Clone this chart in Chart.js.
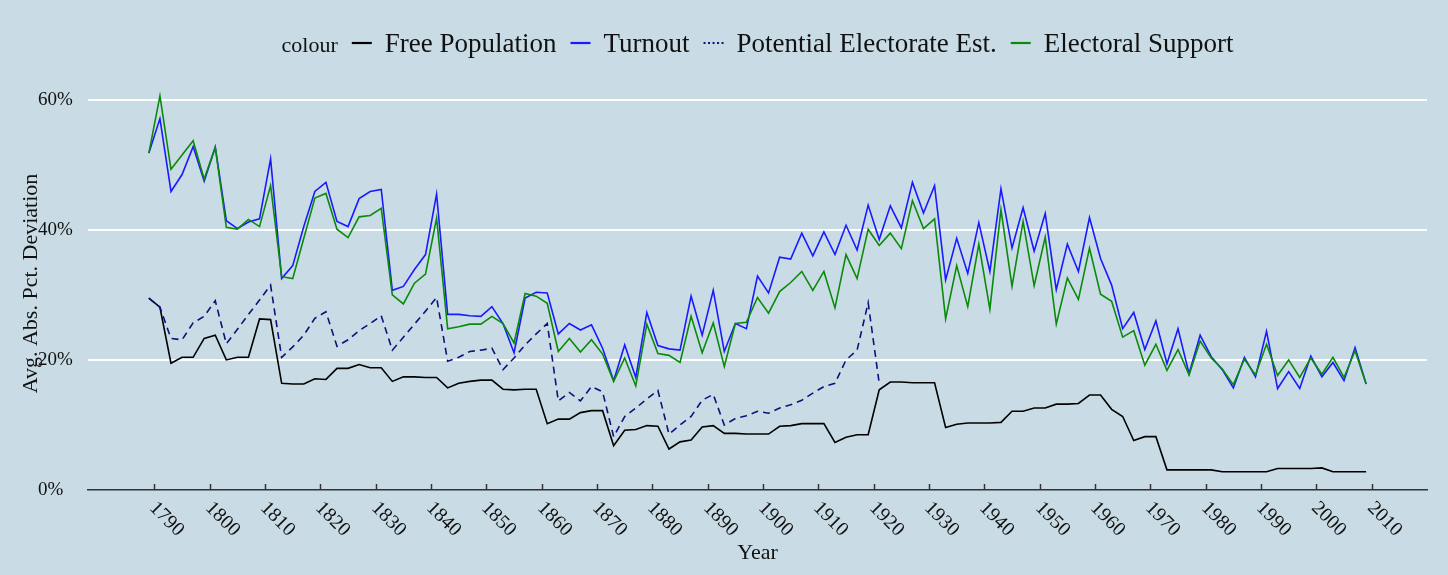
<!DOCTYPE html>
<html>
<head>
<meta charset="utf-8">
<title>Avg. Abs. Pct. Deviation by Year</title>
<script src="https://cdn.jsdelivr.net/npm/chart.js@4.4.1/dist/chart.umd.min.js"></script>
<style>
  html, body { margin: 0; padding: 0; background: #c9dce5; }
  #wrap { width: 1448px; height: 575px; position: relative; background: #c9dce5; }
</style>
</head>
<body>
<div id="wrap"><canvas id="chart"></canvas></div>
<script>
// Election years (odd years, 1789-2009)
const years = [
  1789, 1791, 1793, 1795, 1797, 1799, 1801, 1803, 1805, 1807,
  1809, 1811, 1813, 1815, 1817, 1819, 1821, 1823, 1825, 1827,
  1829, 1831, 1833, 1835, 1837, 1839, 1841, 1843, 1845, 1847,
  1849, 1851, 1853, 1855, 1857, 1859, 1861, 1863, 1865, 1867,
  1869, 1871, 1873, 1875, 1877, 1879, 1881, 1883, 1885, 1887,
  1889, 1891, 1893, 1895, 1897, 1899, 1901, 1903, 1905, 1907,
  1909, 1911, 1913, 1915, 1917, 1919, 1921, 1923, 1925, 1927,
  1929, 1931, 1933, 1935, 1937, 1939, 1941, 1943, 1945, 1947,
  1949, 1951, 1953, 1955, 1957, 1959, 1961, 1963, 1965, 1967,
  1969, 1971, 1973, 1975, 1977, 1979, 1981, 1983, 1985, 1987,
  1989, 1991, 1993, 1995, 1997, 1999, 2001, 2003, 2005, 2007, 2009
];

// Average absolute percentage deviation (%)
const freePopulation = [
  29.5, 28.1, 19.5, 20.4, 20.4, 23.3, 23.8, 20.0, 20.4, 20.4,
  26.3, 26.2, 16.4, 16.3, 16.3, 17.1, 17.0, 18.7, 18.7, 19.3,
  18.8, 18.8, 16.7, 17.4, 17.4, 17.3, 17.3, 15.7, 16.4, 16.7,
  16.9, 16.9, 15.5, 15.4, 15.5, 15.5, 10.2, 10.9, 10.9, 11.9,
  12.2, 12.2, 6.8, 9.2, 9.3, 9.9, 9.8, 6.3, 7.4, 7.7,
  9.7, 9.9, 8.7, 8.7, 8.6, 8.6, 8.6, 9.8, 9.9, 10.2,
  10.2, 10.2, 7.3, 8.1, 8.5, 8.5, 15.4, 16.6, 16.6, 16.5,
  16.5, 16.5, 9.6, 10.1, 10.3, 10.3, 10.3, 10.4, 12.1, 12.1,
  12.6, 12.6, 13.2, 13.2, 13.3, 14.6, 14.6, 12.4, 11.3, 7.6,
  8.2, 8.2, 3.1, 3.1, 3.1, 3.1, 3.1, 2.8, 2.8, 2.8,
  2.8, 2.8, 3.3, 3.3, 3.3, 3.3, 3.4, 2.8, 2.8, 2.8, 2.8
];

const turnout = [
  51.8, 57.1, 45.9, 48.5, 52.8, 47.5, 52.7, 41.4, 40.2, 41.2,
  41.7, 50.9, 32.5, 34.5, 40.5, 45.9, 47.3, 41.3, 40.5, 44.8,
  45.9, 46.2, 30.7, 31.3, 33.9, 36.2, 45.5, 27.0, 27.0, 26.8,
  26.7, 28.2, 25.6, 21.1, 29.5, 30.4, 30.3, 24.0, 25.6, 24.6,
  25.4, 21.8, 16.8, 22.3, 17.3, 27.3, 22.2, 21.7, 21.5, 29.8,
  23.8, 30.7, 21.3, 25.6, 24.8, 32.9, 30.3, 35.8, 35.5, 39.5,
  36.0, 39.7, 36.2, 40.7, 36.9, 43.8, 38.5, 43.7, 40.3, 47.3,
  42.6, 46.8, 32.3, 38.7, 33.3, 41.1, 33.6, 46.3, 37.2, 43.4,
  36.7, 42.5, 30.8, 37.8, 33.6, 41.9, 35.6, 31.5, 24.8, 27.3,
  21.6, 26.0, 19.4, 24.8, 17.9, 23.8, 20.5, 18.5, 15.7, 20.4,
  17.4, 24.4, 15.6, 18.2, 15.6, 20.6, 17.4, 19.6, 16.8, 21.9, 16.3
];

// Estimate only available through 1921
const potentialElectorate = [
  29.5, 28.1, 23.3, 23.1, 25.7, 26.7, 29.1, 22.5, 24.7, 27.0,
  29.2, 31.5, 20.4, 22.0, 23.8, 26.4, 27.4, 22.1, 23.1, 24.5,
  25.6, 26.8, 21.5, 23.5, 25.5, 27.5, 29.6, 19.8, 20.4, 21.3,
  21.5, 21.8, 18.5, 20.3, 22.3, 24.0, 25.6, 13.7, 15.0, 13.7,
  15.9, 15.1, 8.2, 11.3, 12.6, 14.0, 15.3, 8.6, 10.0, 11.3,
  13.8, 14.7, 10.0, 11.0, 11.4, 12.1, 11.8, 12.6, 13.1, 13.8,
  14.9, 15.9, 16.4, 20.0, 21.5, 28.8, 16.4
];

const electoralSupport = [
  51.8, 60.6, 49.3, 51.5, 53.7, 47.8, 52.7, 40.4, 40.1, 41.6,
  40.5, 46.8, 32.8, 32.5, 38.7, 44.9, 45.6, 40.1, 38.8, 42.0,
  42.2, 43.3, 30.0, 28.6, 31.8, 33.2, 41.8, 24.8, 25.1, 25.5,
  25.5, 26.7, 25.6, 22.6, 30.2, 29.8, 28.7, 21.3, 23.3, 21.2,
  23.1, 20.9, 16.7, 20.3, 16.0, 25.5, 21.0, 20.7, 19.6, 26.7,
  21.1, 25.7, 19.0, 25.6, 25.8, 29.6, 27.2, 30.5, 31.9, 33.6,
  30.7, 33.6, 28.0, 36.2, 32.5, 40.1, 37.6, 39.5, 37.1, 44.5,
  40.2, 41.7, 26.3, 34.5, 28.2, 37.8, 27.8, 43.1, 31.3, 41.3,
  31.4, 38.9, 25.5, 32.6, 29.3, 37.2, 30.1, 29.0, 23.5, 24.5,
  19.2, 22.4, 18.4, 21.6, 17.7, 22.9, 20.3, 18.6, 16.2, 20.1,
  17.7, 22.4, 17.6, 20.0, 17.3, 20.3, 17.8, 20.4, 17.3, 21.4, 16.3
];

const seriesLabels = ['Free Population', 'Turnout', 'Potential Electorate Est.', 'Electoral Support'];
const xTickYears = [1790, 1800, 1810, 1820, 1830, 1840, 1850, 1860, 1870, 1880, 1890, 1900, 1910, 1920, 1930, 1940, 1950, 1960, 1970, 1980, 1990, 2000, 2010];
const yTickValues = [0, 20, 40, 60];
const legendTitle = 'colour';

const BG = '#c9dce5';
const SERIF = '"Liberation Serif", "Times New Roman", serif';
const INK = '#111111';

const toPoints = (vals) => vals.map((v, i) => ({ x: years[i], y: v }));

// Paint the whole canvas with the panel colour
const backdrop = {
  id: 'backdrop',
  beforeDraw(chart) {
    const { ctx, width, height } = chart;
    ctx.save();
    ctx.fillStyle = BG;
    ctx.fillRect(0, 0, width, height);
    ctx.restore();
  }
};

// Inward tick marks and slanted year labels on the x axis
const yearAxis = {
  id: 'yearAxis',
  afterDraw(chart) {
    const { ctx, chartArea, scales: { x } } = chart;
    ctx.save();
    ctx.strokeStyle = '#333333';
    ctx.lineWidth = 1.5;
    ctx.fillStyle = INK;
    ctx.font = `20px ${SERIF}`;
    ctx.textAlign = 'left';
    ctx.textBaseline = 'top';
    x.ticks.forEach(t => {
      const px = Math.round(x.getPixelForValue(t.value)) + 0.5;
      ctx.beginPath();
      ctx.moveTo(px, chartArea.bottom);
      ctx.lineTo(px, chartArea.bottom - 6);
      ctx.stroke();
      ctx.save();
      ctx.translate(px + 5, chartArea.bottom + 8);
      ctx.rotate(Math.PI / 4);
      ctx.fillText(String(t.value), 0, 0);
      ctx.restore();
    });
    ctx.restore();
  }
};

// Single-row key with an inline title, centred over the plot
const inlineKey = {
  id: 'inlineKey',
  afterDraw(chart) {
    const { ctx, chartArea } = chart;
    const sets = chart.data.datasets;
    const gapTitle = 14, sampleLen = 20, gapLabel = 13;
    const baseline = 52, lineY = 43;
    ctx.save();
    ctx.font = `22px ${SERIF}`;
    const titleW = ctx.measureText(legendTitle).width;
    ctx.font = `27px ${SERIF}`;
    const widths = sets.map(d => ctx.measureText(d.label).width);
    const total = titleW + widths.reduce((s, w) => s + gapTitle + sampleLen + gapLabel + w, 0);
    let cx = (chartArea.left + chartArea.right) / 2 - total / 2;
    ctx.fillStyle = INK;
    ctx.textBaseline = 'alphabetic';
    ctx.textAlign = 'left';
    ctx.font = `22px ${SERIF}`;
    ctx.fillText(legendTitle, cx, baseline);
    cx += titleW;
    sets.forEach((d, i) => {
      cx += gapTitle;
      ctx.save();
      ctx.strokeStyle = d.borderColor;
      ctx.lineWidth = 2.2;
      ctx.setLineDash(d.keyDash || []);
      ctx.beginPath();
      ctx.moveTo(cx, lineY);
      ctx.lineTo(cx + sampleLen, lineY);
      ctx.stroke();
      ctx.restore();
      cx += sampleLen + gapLabel;
      ctx.font = `27px ${SERIF}`;
      ctx.fillStyle = INK;
      ctx.fillText(d.label, cx, baseline);
      cx += widths[i];
    });
    ctx.restore();
  }
};

const lineStyle = { borderWidth: 1.6, pointRadius: 0, pointHoverRadius: 0, tension: 0, fill: false, spanGaps: false };

new Chart(document.getElementById('chart'), {
  type: 'line',
  data: {
    datasets: [
      { ...lineStyle, label: seriesLabels[0], data: toPoints(freePopulation), borderColor: '#000000', order: 4 },
      { ...lineStyle, label: seriesLabels[1], data: toPoints(turnout), borderColor: '#1a1aff', order: 3 },
      { ...lineStyle, label: seriesLabels[2], data: toPoints(potentialElectorate), borderColor: '#10107a', borderDash: [7, 5], keyDash: [2, 2.5], order: 2 },
      { ...lineStyle, label: seriesLabels[3], data: toPoints(electoralSupport), borderColor: '#0a8a0a', order: 1 }
    ]
  },
  options: {
    responsive: true,
    maintainAspectRatio: false,
    animation: false,
    events: [],
    layout: { padding: { left: 38, right: 21, top: 77, bottom: 9 } },
    plugins: {
      legend: { display: false },
      tooltip: { enabled: false }
    },
    scales: {
      x: {
        type: 'linear',
        min: 1778,
        max: 2020,
        afterBuildTicks: (scale) => { scale.ticks = xTickYears.map(v => ({ value: v })); },
        afterFit: (scale) => { scale.height = 76; },
        ticks: { display: false },
        grid: { display: true, drawOnChartArea: false, drawTicks: false },
        border: { display: true, color: '#333333', width: 1.6 },
        title: {
          display: true,
          text: 'Year',
          color: INK,
          font: { family: SERIF, size: 22 },
          padding: { top: 0, bottom: 0 }
        }
      },
      y: {
        type: 'linear',
        min: 0,
        max: 63.5,
        afterBuildTicks: (scale) => { scale.ticks = yTickValues.map(v => ({ value: v })); },
        afterFit: (scale) => { scale.width = 50; },
        ticks: {
          crossAlign: 'far',
          padding: 0,
          color: INK,
          font: { family: SERIF, size: 19 },
          callback: (v) => v + '%'
        },
        grid: {
          drawTicks: false,
          lineWidth: 2,
          color: (c) => (c.tick && c.tick.value === 0) ? 'rgba(0,0,0,0)' : '#ffffff'
        },
        border: { display: false },
        title: {
          display: true,
          text: 'Avg. Abs. Pct. Deviation',
          color: INK,
          font: { family: SERIF, size: 22 },
          padding: { top: -20, bottom: 0 }
        }
      }
    }
  },
  plugins: [backdrop, yearAxis, inlineKey]
});
</script>
</body>
</html>
